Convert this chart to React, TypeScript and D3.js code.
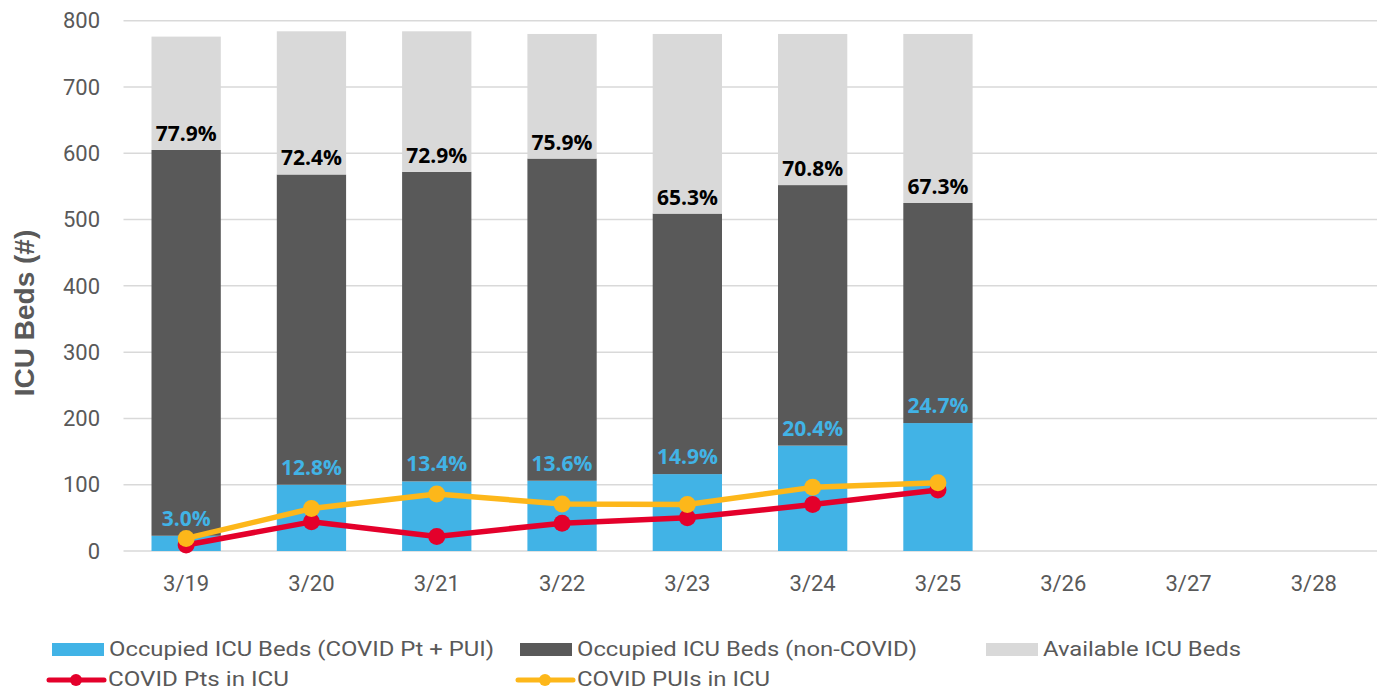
import React, { useEffect, useRef } from 'react';
import * as d3 from 'd3';

const dates = ['3/19', '3/20', '3/21', '3/22', '3/23', '3/24', '3/25', '3/26', '3/27', '3/28'];

// stacked bar segments (beds)
const covidBeds = [23, 100, 105, 106, 116, 159, 193];
const nonCovidBeds = [582, 468, 467, 486, 393, 393, 332];
const availableBeds = [171, 216, 212, 188, 271, 228, 255];

// percent labels as printed
const covidPct = ['3.0%', '12.8%', '13.4%', '13.6%', '14.9%', '20.4%', '24.7%'];
const occupiedPct = ['77.9%', '72.4%', '72.9%', '75.9%', '65.3%', '70.8%', '67.3%'];

// lines
const covidPts = [9, 44, 22, 42, 50, 70, 92];
const covidPuis = [19, 64, 86, 71, 70, 96, 103];

const yTicks = [0, 100, 200, 300, 400, 500, 600, 700, 800];

const W = 1377;
const H = 692;
const BLUE = '#41B3E6';
const DARK = '#595959';
const LIGHT = '#D9D9D9';
const RED = '#E4002B';
const YELLOW = '#FDB71A';
const TXT = '#595959';

const App = () => {
  const svgRef = useRef(null);

  useEffect(() => {
    const svg = d3.select(svgRef.current);
    svg.selectAll('*').remove();

    const x = d3.scaleBand().domain(dates).range([123.5, 1376.5]).paddingInner(0.447).paddingOuter(0.2235);
    const y = d3.scaleLinear().domain([0, 800]).range([551, 20.7]);

    // gridlines
    svg.append('g')
      .selectAll('line')
      .data(yTicks)
      .join('line')
      .attr('x1', 123.5)
      .attr('x2', W)
      .attr('y1', d => y(d))
      .attr('y2', d => y(d))
      .attr('stroke', LIGHT)
      .attr('stroke-width', 1.5);

    // y tick labels
    svg.append('g')
      .selectAll('text')
      .data(yTicks)
      .join('text')
      .text(d => d)
      .attr('x', 100)
      .attr('y', d => y(d))
      .attr('dy', '0.35em')
      .attr('text-anchor', 'end')
      .attr('font-family', 'Roboto')
      .attr('font-size', 22)
      .attr('fill', TXT);

    // y title
    svg.append('text')
      .text('ICU Beds (#)')
      .attr('transform', 'translate(34,313) rotate(-90)')
      .attr('text-anchor', 'middle')
      .attr('font-family', 'Liberation Sans, Arial')
      .attr('font-weight', 'bold')
      .attr('font-size', 28)
      .attr('fill', TXT);

    // x labels
    svg.append('g')
      .selectAll('text')
      .data(dates)
      .join('text')
      .text(d => d)
      .attr('x', d => x(d) + x.bandwidth() / 2)
      .attr('y', 583)
      .attr('dy', '0.35em')
      .attr('text-anchor', 'middle')
      .attr('font-family', 'Roboto')
      .attr('font-size', 22)
      .attr('fill', TXT);

    // stacks
    const rows = covidBeds.map((c, i) => ({
      date: dates[i], covid: c, nonCovid: nonCovidBeds[i], available: availableBeds[i],
    }));
    const keys = ['covid', 'nonCovid', 'available'];
    const colors = { covid: BLUE, nonCovid: DARK, available: LIGHT };
    const stacked = d3.stack().keys(keys)(rows);

    svg.append('g')
      .selectAll('g')
      .data(stacked)
      .join('g')
      .attr('fill', s => colors[s.key])
      .selectAll('rect')
      .data(s => s)
      .join('rect')
      .attr('x', d => x(d.data.date))
      .attr('width', x.bandwidth())
      .attr('y', d => y(d[1]))
      .attr('height', d => y(d[0]) - y(d[1]));

    // percent labels
    const lbl = svg.append('g')
      .attr('font-family', 'Open Sans, Liberation Sans')
      .attr('font-weight', 'bold')
      .attr('font-size', 21)
      .attr('text-anchor', 'middle');

    lbl.selectAll('text.occ')
      .data(rows)
      .join('text')
      .attr('class', 'occ')
      .text((d, i) => occupiedPct[i])
      .attr('x', d => x(d.date) + x.bandwidth() / 2)
      .attr('y', d => y(d.covid + d.nonCovid) - 9)
      .attr('fill', '#000');

    lbl.selectAll('text.cov')
      .data(rows)
      .join('text')
      .attr('class', 'cov')
      .text((d, i) => covidPct[i])
      .attr('x', d => x(d.date) + x.bandwidth() / 2)
      .attr('y', d => y(d.covid) - 10)
      .attr('fill', BLUE);

    // lines
    const cx = (i) => x(dates[i]) + x.bandwidth() / 2;
    const line = d3.line().x((d, i) => cx(i)).y(d => y(d));
    const series = [
      { vals: covidPts, color: RED },
      { vals: covidPuis, color: YELLOW },
    ];
    series.forEach(s => {
      svg.append('path')
        .attr('d', line(s.vals))
        .attr('fill', 'none')
        .attr('stroke', s.color)
        .attr('stroke-width', 5.5)
        .attr('stroke-linejoin', 'round');
      svg.append('g')
        .selectAll('circle')
        .data(s.vals)
        .join('circle')
        .attr('cx', (d, i) => cx(i))
        .attr('cy', d => y(d))
        .attr('r', 8.5)
        .attr('fill', s.color);
    });

    // legend
    const leg = svg.append('g').attr('font-family', 'Roboto').attr('font-size', 21).attr('fill', TXT);
    const boxes = [
      { label: 'Occupied ICU Beds (COVID Pt + PUI)', color: BLUE, x: 52, w: 385 },
      { label: 'Occupied ICU Beds (non-COVID)', color: DARK, x: 520, w: 340 },
      { label: 'Available ICU Beds', color: LIGHT, x: 986, w: 198 },
    ];
    boxes.forEach(b => {
      leg.append('rect').attr('x', b.x).attr('y', 643).attr('width', 52).attr('height', 13).attr('fill', b.color);
      leg.append('text').text(b.label).attr('x', b.x + 57).attr('y', 649).attr('dy', '0.35em')
        .attr('textLength', b.w).attr('lengthAdjust', 'spacingAndGlyphs');
    });
    const lines = [
      { label: 'COVID Pts in ICU', color: RED, x: 49, w: 181 },
      { label: 'COVID PUIs in ICU', color: YELLOW, x: 518, w: 193 },
    ];
    lines.forEach(l => {
      leg.append('line').attr('x1', l.x).attr('x2', l.x + 55).attr('y1', 680).attr('y2', 680)
        .attr('stroke', l.color).attr('stroke-width', 5).attr('stroke-linecap', 'round');
      leg.append('circle').attr('cx', l.x + 27).attr('cy', 680).attr('r', 6).attr('fill', l.color);
      leg.append('text').text(l.label).attr('x', l.x + 59).attr('y', 679).attr('dy', '0.35em')
        .attr('textLength', l.w).attr('lengthAdjust', 'spacingAndGlyphs');
    });
  }, []);

  return (
    <svg ref={svgRef} width={W} height={H} viewBox={`0 0 ${W} ${H}`}
      style={{ position: 'absolute', left: 0, top: 0, background: '#fff' }} />
  );
};

export default App;
